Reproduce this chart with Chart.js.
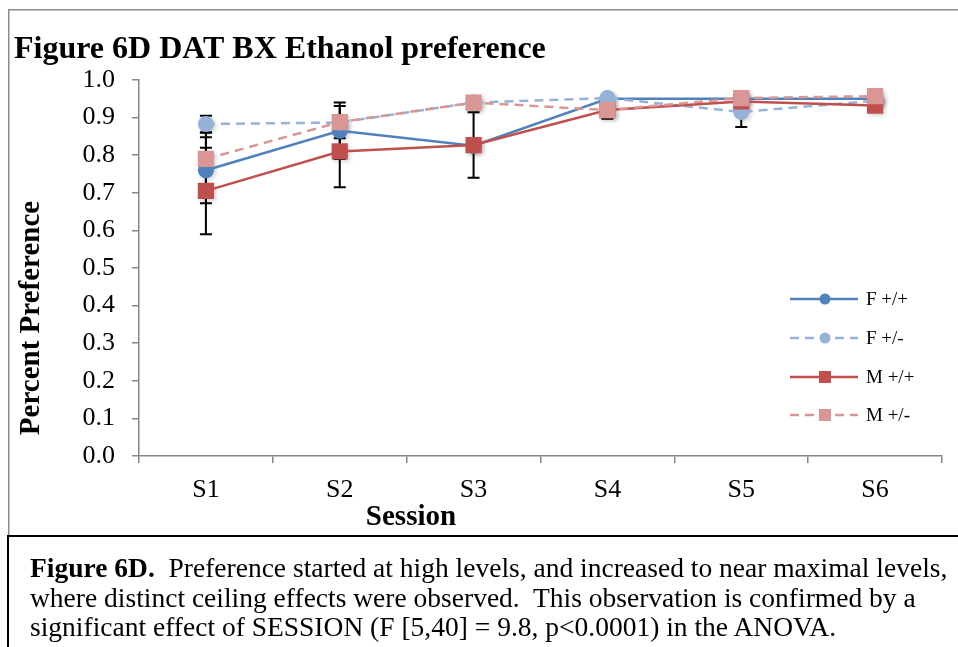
<!DOCTYPE html>
<html>
<head>
<meta charset="utf-8">
<script src="https://cdn.jsdelivr.net/npm/chart.js@4.4.1/dist/chart.umd.min.js"></script>
<style>
	html, body { margin: 0; padding: 0; background: #fff; overflow: hidden; }
	body { width: 958px; height: 647px; position: relative; font-family: "Liberation Serif", "Times New Roman", serif; }
	.chart-holder { position: absolute; left: 0; top: 0; width: 958px; height: 536px; }
	.caption { position: absolute; left: 7px; top: 535px; width: 951px; height: 112px; border-left: 2px solid #000; border-top: 2px solid #000; box-sizing: border-box; padding: 16px 0 0 21px; font-size: 27.5px; line-height: 29.5px; color: #000; white-space: nowrap; overflow: hidden; }
</style>
</head>
<body>
<div class="chart-holder"><canvas id="chart"></canvas></div>
<div class="caption"><b>Figure 6D.</b>&nbsp; Preference started at high levels, and increased to near maximal levels,<br>where distinct ceiling effects were observed.&nbsp; This observation is confirmed by a<br>significant effect of SESSION (F [5,40] = 9.8, p&lt;0.0001) in the ANOVA.</div>
<script>
	'use strict';

	var sessions = ['S1', 'S2', 'S3', 'S4', 'S5', 'S6'];
	var seriesNames = ['F +/+', 'F +/-', 'M +/+', 'M +/-'];

	// mean preference per session
	var fHom = [0.76, 0.865, 0.825, 0.95, 0.95, 0.95];
	var fHet = [0.883, 0.887, 0.94, 0.952, 0.915, 0.945];
	var mHom = [0.705, 0.81, 0.827, 0.92, 0.943, 0.932];
	var mHet = [0.79, 0.888, 0.94, 0.92, 0.952, 0.957];

	// SEM
	var fHomErr = [0.088, 0.075, 0.015, 0.01, 0.01, 0.01];
	var fHetErr = [0.022, 0.02, 0.01, 0.01, 0.04, 0.01];
	var mHomErr = [0.115, 0.095, 0.087, 0.023, 0.01, 0.01];
	var mHetErr = [0.07, 0.043, 0.01, 0.01, 0.01, 0.01];

	var yTicks = [0, 0.1, 0.2, 0.3, 0.4, 0.5, 0.6, 0.7, 0.8, 0.9, 1.0];

	var serif = '"Liberation Serif", "Times New Roman", serif';
	var axisGrey = '#868686';

	function series(label, data, errors, color, dashed, shape, order) {
		return {
			label: label,
			data: data,
			errors: errors,
			borderColor: color,
			backgroundColor: color,
			borderWidth: 2.5,
			borderDash: dashed ? [9, 6] : [],
			pointStyle: shape,
			pointRadius: shape === 'rect' ? 11.5 : 8,
			pointBorderWidth: 0,
			pointBackgroundColor: color,
			tension: 0,
			order: order
		};
	}

	// grey frame round the chart (top and left edges only are in view)
	var chartFrame = {
		id: 'chartFrame',
		beforeDraw: function (chart) {
			var ctx = chart.ctx;
			ctx.save();
			ctx.strokeStyle = '#8c8c8c';
			ctx.lineWidth = 1.5;
			ctx.beginPath();
			ctx.moveTo(8.75, chart.height);
			ctx.lineTo(8.75, 9.75);
			ctx.lineTo(chart.width, 9.75);
			ctx.stroke();
			ctx.restore();
		}
	};

	var errorBars = {
		id: 'errorBars',
		beforeDatasetsDraw: function (chart) {
			var ctx = chart.ctx,
				yScale = chart.scales.y;
			ctx.save();
			ctx.strokeStyle = '#000';
			ctx.lineWidth = 2;
			ctx.setLineDash([]);
			chart.data.datasets.forEach(function (ds, i) {
				var meta = chart.getDatasetMeta(i);
				meta.data.forEach(function (pt, j) {
					var v = ds.data[j], e = ds.errors[j],
						top = yScale.getPixelForValue(v + e),
						bot = yScale.getPixelForValue(v - e);
					ctx.beginPath();
					ctx.moveTo(pt.x, top);
					ctx.lineTo(pt.x, bot);
					ctx.moveTo(pt.x - 6, top);
					ctx.lineTo(pt.x + 6, top);
					ctx.moveTo(pt.x - 6, bot);
					ctx.lineTo(pt.x + 6, bot);
					ctx.stroke();
				});
			});

			// soft drop shadow under the markers
			ctx.fillStyle = 'rgba(0,0,0,0.18)';
			ctx.filter = 'blur(2px)';
			chart.data.datasets.forEach(function (ds, i) {
				chart.getDatasetMeta(i).data.forEach(function (pt) {
					ctx.beginPath();
					if (ds.pointStyle === 'rect') {
						ctx.rect(pt.x - 8 + 2, pt.y - 8 + 2, 16, 16);
					} else {
						ctx.arc(pt.x + 2, pt.y + 2, 8, 0, Math.PI * 2);
					}
					ctx.fill();
				});
			});
			ctx.restore();
		}
	};

	var textAndLegend = {
		id: 'textAndLegend',
		afterDraw: function (chart) {
			var ctx = chart.ctx;
			ctx.save();
			ctx.fillStyle = '#000';

			ctx.font = 'bold 32px ' + serif;
			ctx.textAlign = 'left';
			ctx.textBaseline = 'alphabetic';
			ctx.fillText('Figure 6D DAT BX Ethanol preference', 14, 58);

			ctx.font = 'bold 29px ' + serif;
			ctx.textAlign = 'center';
			ctx.textBaseline = 'middle';
			ctx.fillText('Session', 411, 518);

			ctx.save();
			ctx.translate(32, 318);
			ctx.rotate(-Math.PI / 2);
			ctx.fillText('Percent Preference', 0, 0);
			ctx.restore();

			// legend
			var rows = [299, 338, 377, 415];
			chart.data.datasets.forEach(function (ds, i) {
				var y = rows[i];
				ctx.strokeStyle = ds.borderColor;
				ctx.lineWidth = 2.5;
				ctx.setLineDash(ds.borderDash);
				ctx.beginPath();
				ctx.moveTo(790, y);
				ctx.lineTo(858, y);
				ctx.stroke();
				ctx.setLineDash([]);
				ctx.fillStyle = ds.backgroundColor;
				if (ds.pointStyle === 'rect') {
					ctx.fillRect(825 - 6, y - 6, 12, 12);
				} else {
					ctx.beginPath();
					ctx.arc(825, y, 5.5, 0, Math.PI * 2);
					ctx.fill();
				}
				ctx.fillStyle = '#000';
				ctx.font = '19px ' + serif;
				ctx.textAlign = 'left';
				ctx.textBaseline = 'middle';
				ctx.fillText(ds.label, 866, y + 1);
			});
			ctx.restore();
		}
	};

	new Chart(document.getElementById('chart'), {
		type: 'line',
		data: {
			labels: sessions,
			datasets: [
				series(seriesNames[0], fHom, fHomErr, '#4F81BD', false, 'circle', 3),
				series(seriesNames[1], fHet, fHetErr, '#95B3D7', true, 'circle', 2),
				series(seriesNames[2], mHom, mHomErr, '#C0504D', false, 'rect', 1),
				series(seriesNames[3], mHet, mHetErr, '#D99694', true, 'rect', 0)
			]
		},
		options: {
			responsive: true,
			maintainAspectRatio: false,
			animation: false,
			layout: { padding: { top: 80, right: 16, bottom: 20, left: 0 } },
			plugins: {
				legend: { display: false },
				title: { display: false },
				tooltip: { enabled: false }
			},
			scales: {
				x: {
					type: 'category',
					offset: true,
					grid: { offset: true, drawOnChartArea: false, tickLength: 7, color: axisGrey, lineWidth: 1.5 },
					border: { color: axisGrey, width: 1.5 },
					ticks: { color: '#000', font: { family: serif, size: 26 }, padding: 12, maxRotation: 0 },
					afterFit: function (scale) { scale.height = 60; }
				},
				y: {
					min: 0,
					max: 1,
					afterBuildTicks: function (scale) {
						scale.ticks = yTicks.map(function (v) { return { value: v }; });
					},
					grid: { drawOnChartArea: false, tickLength: 7, color: axisGrey, lineWidth: 1.5 },
					border: { color: axisGrey, width: 1.5 },
					ticks: {
						color: '#000',
						font: { family: serif, size: 26 },
						padding: 17,
						callback: function (v) { return Number(v).toFixed(1); }
					},
					afterFit: function (scale) { scale.width = 139; }
				}
			}
		},
		plugins: [chartFrame, errorBars, textAndLegend]
	});
</script>
</body>
</html>
